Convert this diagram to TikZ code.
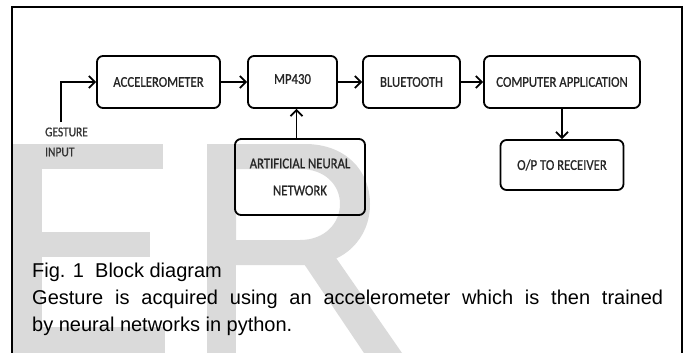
\documentclass[tikz,border=0pt]{standalone}
\usepackage{fontspec}
\setmainfont{Liberation Sans}
\newfontfamily\boxfont[FakeStretch=0.85,FakeBold=0.8]{Carlito}
\usetikzlibrary{arrows.meta}
\definecolor{wmark}{RGB}{218,218,218}
\begin{document}
\begin{tikzpicture}[x=1pt,y=-1pt,
  block/.style={draw=black, line width=1.8pt, rounded corners=6pt, inner sep=0pt,
    minimum height=52pt, align=center,
    font=\boxfont\fontsize{15}{27}\selectfont, text=black!85},
  flow/.style={line width=1.8pt, -{Straight Barb[length=6pt,width=12pt]}},
  small/.style={font=\boxfont\fontsize{13.5}{20}\selectfont, text=black!80, inner sep=0pt, anchor=west},
  caption/.style={font=\fontsize{20}{20}\selectfont, inner sep=0pt, anchor=base west}]
\useasboundingbox (0,0) rectangle (691,353);

% background watermark letters
\fill[wmark] (13,144) rectangle (42,353);
\fill[wmark] (13,144) rectangle (163,169);
\fill[wmark] (13,232) rectangle (150,257);
\fill[wmark] (13,327) rectangle (165,353);
\fill[wmark] (207,144) rectangle (236,353);
\fill[wmark, even odd rule]
  (207,144) -- (305,144) .. controls (345,144) and (370,170) .. (370,204)
  .. controls (370,238) and (345,265) .. (305,265) -- (207,265) -- cycle
  (236,169) -- (300,169) .. controls (325,169) and (340,185) .. (340,204)
  .. controls (340,223) and (325,240) .. (300,240) -- (236,240) -- cycle;
\fill[wmark] (298,255) -- (334,255) -- (402,353) -- (364,353) -- cycle;

% outer frame (open at the bottom)
\draw[line width=2pt] (11.5,353) -- (11.5,7.5) -- (682,7.5) -- (682,353);

% blocks
\node[block, minimum width=123pt] (acc) at (158.5,82) {ACCELEROMETER};
\node[block, minimum width=89pt, text depth=6pt] (mcu) at (292.5,82) {MP430};
\node[block, minimum width=97pt] (bt) at (411.5,82) {BLUETOOTH};
\node[block, minimum width=156pt] (app) at (562,82) {COMPUTER APPLICATION};
\node[block, minimum width=123pt, minimum height=50pt] (out) at (562,165) {O/P TO RECEIVER};
\node[block, minimum width=130pt, minimum height=76pt] (ann) at (300,177) {ARTIFICIAL NEURAL\\NETWORK};

% gesture input
\coordinate (gin) at (61,122);
\node[small] (glabel) at (45,132) {GESTURE};
\node[small] (ilabel) at (45,152) {INPUT};
\draw[flow] (gin) |- (acc.west);

% connectors
\draw[flow] (acc) -- (mcu);
\draw[flow] (mcu) -- (bt);
\draw[flow] (bt) -- (app);
\draw[flow] (app) -- (out);
\draw[flow] (ann.north -| mcu.south) ++(4,0) coordinate (annup) -- (annup |- mcu.south);

% caption
\node[caption] (cap1) at (32,277) {Fig. 1\ \ Block diagram};
\node[caption] (cap2) at (32,304) {\makebox[631pt][s]{Gesture is acquired using an accelerometer which is then trained}};
\node[caption] (cap3) at (32,331) {by neural networks in python.};
\end{tikzpicture}
\end{document}
